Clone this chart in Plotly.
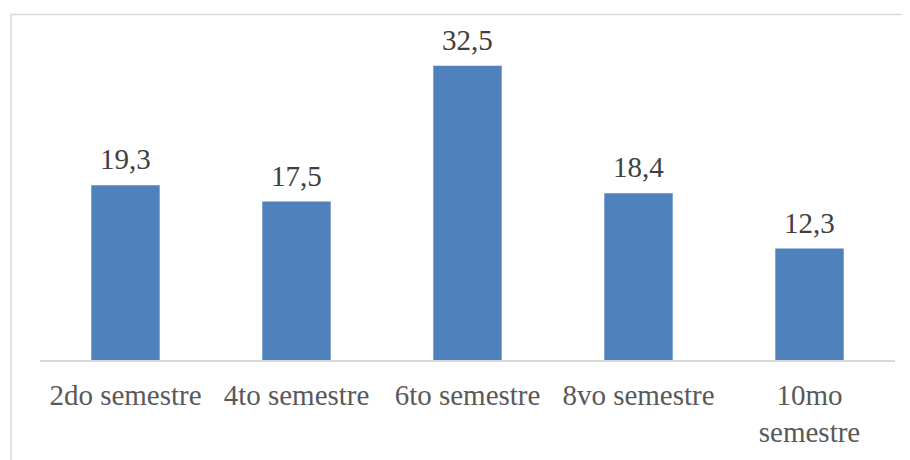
import plotly.graph_objects as go

categories = ["2do semestre", "4to semestre", "6to semestre", "8vo semestre", "10mo<br>semestre"]
values = [19.3, 17.5, 32.5, 18.4, 12.3]
labels = ["19,3", "17,5", "32,5", "18,4", "12,3"]

FONT = "'Times New Roman', 'Liberation Serif', Times, serif"

fig = go.Figure()
fig.add_trace(go.Bar(x=categories, y=values, marker=dict(color="#4F81BD", line=dict(width=0)),
                     hoverinfo="skip"))

for c, v, t in zip(categories, values, labels):
    fig.add_annotation(x=c, y=v, text=t, showarrow=False, yanchor="bottom", yshift=8,
                       font=dict(family=FONT, size=29, color="#404040"))

OFF = 8
W, H = 910 - OFF, 460 - OFF
L, R, T, B = 40 - OFF, 15, 43 - OFF, 95
pw, ph = W - L - R, H - T - B
fig.add_shape(type="rect", xref="paper", yref="paper",
              x0=(11 - OFF - L) / pw, x1=(W + 20 - L) / pw,
              y0=-(H + 20 - (T + ph)) / ph, y1=(T + ph - (14 - OFF)) / ph,
              line=dict(color="#D9D9D9", width=1.5), fillcolor="rgba(0,0,0,0)", layer="below")

fig.update_layout(
    width=W, height=H,
    margin=dict(l=L, r=R, t=T, b=B, pad=0),
    paper_bgcolor="white", plot_bgcolor="white",
    bargap=0.6, showlegend=False,
    font=dict(family=FONT, size=29, color="#595959"),
    xaxis=dict(showline=True, linecolor="#D9D9D9", linewidth=1.5, ticks="", showgrid=False,
               ticklabelstandoff=8,
               tickfont=dict(family=FONT, size=29, color="#595959")),
    yaxis=dict(range=[0, 35], visible=False, showgrid=False),
)

fig.write_html("out.html")
